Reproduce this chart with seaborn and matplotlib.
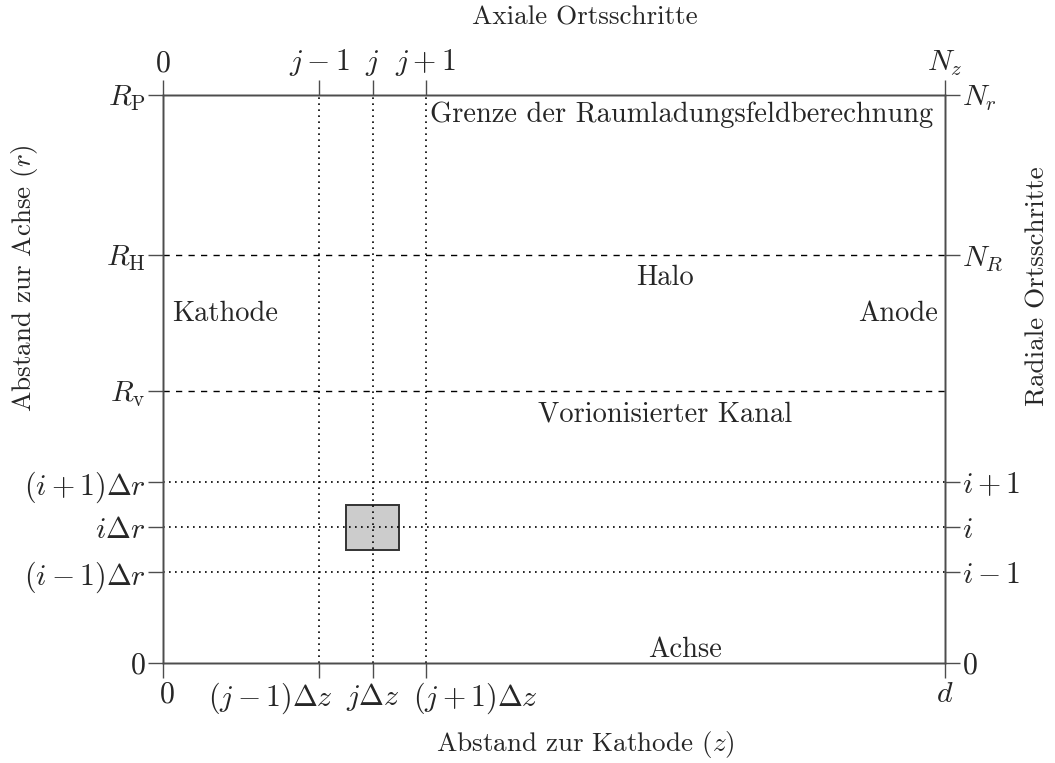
import seaborn as sns
import matplotlib.pyplot as plt
import matplotlib.patches as patches
import pandas as pd

# axial positions (z, normalised to d = 1)
z_ticks = [0.0, 0.2, 0.268, 0.336, 1.0]
z_labels_bottom = ['$0$', r'$(j-1)\Delta z$', r'$j\Delta z$', r'$(j+1)\Delta z$', '$d$']
z_labels_top = ['$0$', '$j-1$', '$j$', '$j+1$', '$N_z$']
z_label_shift = [3, -35, 0, 36, 0]   # LaTeX moved the crowded labels apart (pt)

# radial positions (r, normalised to R_P = 1)
r_ticks = [0.0, 0.160, 0.239, 0.319, 0.479, 0.718, 1.0]
r_labels_left = ['$0$', r'$(i-1)\Delta r$', r'$i\Delta r$', r'$(i+1)\Delta r$',
                 r'$R_{\mathrm{v}}$', r'$R_{\mathrm{H}}$', r'$R_{\mathrm{P}}$']
r_ticks_right = [0.0, 0.160, 0.239, 0.319, 0.718, 1.0]
r_labels_right = ['$0$', '$i-1$', '$i$', '$i+1$', '$N_R$', '$N_r$']

# boundaries of the regions
boundary_r = [0.479, 0.718]
grid_z = [0.2, 0.268, 0.336]
grid_r = [0.160, 0.239, 0.319]
cell_z = 0.268
cell_r = 0.239
dz = 0.068
dr = 0.079

region_names = ['Halo', 'Vorionisierter Kanal', 'Achse']
region_r = [0.678, 0.437, 0.023]
region_z = [0.642, 0.642, 0.667]

sns.set_theme(style='white')
plt.rcParams['font.family'] = ['cmr10', 'DejaVu Serif']
plt.rcParams['mathtext.fontset'] = 'cm'
plt.rcParams['axes.unicode_minus'] = False
fs = 20.5
lfs = 19.5
mfs = 21.5
spine_col = '0.3'
dots = (0, (1.0, 2.6))

fig = plt.figure(figsize=(10.55, 7.63), dpi=100)
ax = fig.add_axes([0.1545, 0.1311, 0.7412, 0.7444])

# dashed region boundaries drawn with seaborn
bound_df = pd.DataFrame({
    'z': [0.0, 1.0] * len(boundary_r),
    'r': [v for v in boundary_r for _ in range(2)],
    'line': [i for i in range(len(boundary_r)) for _ in range(2)],
})
for key, part in bound_df.groupby('line'):
    sns.lineplot(data=part, x='z', y='r', ax=ax, color='black', lw=1.0,
                 linestyle=(0, (4.5, 4.5)), estimator=None, sort=False)

# grey cell
ax.add_patch(patches.Rectangle((cell_z - dz / 2, cell_r - dr / 2), dz, dr,
                               facecolor='#cccccc', edgecolor='#333333',
                               lw=1.4, zorder=1))

# dotted grid lines
for zv in grid_z:
    ax.axvline(zv, color='black', lw=1.2, linestyle=dots, zorder=2)
for rv in grid_r:
    ax.axhline(rv, color='black', lw=1.2, linestyle=dots, zorder=2)

ax.set_xlim(0, 1)
ax.set_ylim(0, 1)
ax.set_xticks(z_ticks)
ax.set_xticklabels([])
for zv, lab, sh in zip(z_ticks, z_labels_bottom, z_label_shift):
    ax.annotate(lab, xy=(zv, 0), xycoords=('data', 'axes fraction'),
                xytext=(sh, -13), textcoords='offset points',
                ha='center', va='top', fontsize=mfs)
ax.set_yticks(r_ticks)
ax.set_yticklabels(r_labels_left)
ax.set_xlabel('Abstand zur Kathode ($z$)', fontsize=lfs)
ax.xaxis.set_label_coords(0.54, -0.144)
ax.xaxis.label.set_va('center')
ax.set_ylabel('Abstand zur Achse ($r$)', fontsize=lfs)
ax.yaxis.set_label_coords(-0.1765, 0.678)
ax.yaxis.label.set_va('center')

top = ax.twiny()
top.set_xlim(0, 1)
top.set_xticks(z_ticks)
top.set_xticklabels(z_labels_top)
top.set_xlabel('Axiale Ortsschritte', fontsize=lfs)
top.xaxis.set_label_coords(0.54, 1.137)
top.xaxis.label.set_va('center')

right = ax.twinx()
right.set_ylim(0, 1)
right.set_yticks(r_ticks_right)
right.set_yticklabels(r_labels_right)
right.set_ylabel('Radiale Ortsschritte', fontsize=lfs)
right.yaxis.set_label_coords(1.118, 0.664)
right.yaxis.label.set_va('center')

for a in (ax, top, right):
    a.tick_params(axis='both', which='both', direction='out', length=10.5,
                  width=1.0, color=spine_col, labelsize=mfs, pad=2)
    for s in a.spines.values():
        s.set_color(spine_col)
        s.set_linewidth(1.0)
    a.grid(False)

ax.text(0.341, 0.965, 'Grenze der Raumladungsfeldberechnung', fontsize=fs,
        ha='left', va='center')
ax.text(0.0115, 0.614, 'Kathode', fontsize=fs, ha='left', va='center')
ax.text(0.991, 0.614, 'Anode', fontsize=fs, ha='right', va='center')
for name, zv, rv in zip(region_names, region_z, region_r):
    ax.text(zv, rv, name, fontsize=fs, ha='center', va='center')

fig.savefig('out.png', dpi=100)
